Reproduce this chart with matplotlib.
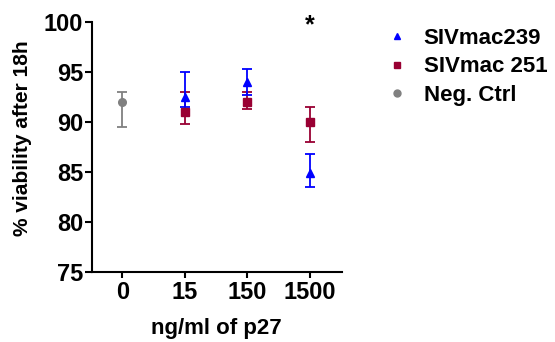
import matplotlib
matplotlib.use("Agg")
import matplotlib.pyplot as plt
from matplotlib.lines import Line2D

plt.rcParams['font.family'] = ['Liberation Sans', 'DejaVu Sans']
plt.rcParams['font.weight'] = 'bold'

categories = ["0", "15", "150", "1500"]

# SIVmac239 at 15, 150, 1500
siv239_x = [1, 2, 3]
siv239_y = [92.5, 94.0, 84.9]
siv239_lo = [1.0, 1.3, 1.4]
siv239_hi = [2.5, 1.3, 1.9]

# SIVmac 251 at 15, 150, 1500
siv251_x = [1, 2, 3]
siv251_y = [91.0, 92.0, 90.0]
siv251_lo = [1.2, 0.7, 2.0]
siv251_hi = [2.0, 1.0, 1.5]

# Neg. Ctrl at 0
neg_x = [0]
neg_y = [92.0]
neg_lo = [2.5]
neg_hi = [1.0]

blue = "#0000ff"
maroon = "#990033"
gray = "#808080"

fig = plt.figure(figsize=(5.55, 3.42), dpi=100)
ax = fig.add_axes([0.1652, 0.2056, 0.616 - 0.1652, 0.9365 - 0.2056])

ekw = dict(linestyle='none', capsize=3.8, elinewidth=1.3, capthick=1.3)
ax.errorbar(neg_x, neg_y, yerr=[neg_lo, neg_hi], marker='o', markersize=5.5,
            color=gray, ecolor=gray, **ekw)
ax.errorbar(siv251_x, siv251_y, yerr=[siv251_lo, siv251_hi], marker='s', markersize=5.5,
            color=maroon, ecolor=maroon, **ekw)
ax.errorbar(siv239_x, siv239_y, yerr=[siv239_lo, siv239_hi], marker='^', markersize=6,
            color=blue, ecolor=blue, **ekw)

ax.text(3, 99.6, "*", ha='center', va='center', fontsize=18, fontweight='bold')

ax.set_xlim(-0.49, 3.51)
ax.set_ylim(75, 100)
ax.set_xticks(range(len(categories)))
ax.set_xticklabels(categories)
ax.set_yticks([75, 80, 85, 90, 95, 100])

for s in ['top', 'right']:
    ax.spines[s].set_visible(False)
for s in ['left', 'bottom']:
    ax.spines[s].set_linewidth(1.5)
ax.tick_params(axis='x', width=1.5, length=4, labelsize=17, pad=3)
ax.tick_params(axis='y', width=1.5, length=5, labelsize=17, pad=1)
for lab in ax.get_xticklabels() + ax.get_yticklabels():
    lab.set_fontweight('bold')

ax.set_xlabel("ng/ml of p27", fontsize=16, fontweight='bold')
ax.set_ylabel("% viability after 18h", fontsize=15, fontweight='bold')
ax.xaxis.set_label_coords(0.5, -0.185)
ax.yaxis.set_label_coords(-0.24, 0.533)

handles = [
    Line2D([], [], linestyle='none', marker='^', color=blue, markersize=5),
    Line2D([], [], linestyle='none', marker='s', color=maroon, markersize=5),
    Line2D([], [], linestyle='none', marker='o', color=gray, markersize=5),
]
fig.legend(handles, ["SIVmac239", "SIVmac 251", "Neg. Ctrl"],
           loc='upper left', bbox_to_anchor=(0.68, 0.945), frameon=False,
           prop={'size': 16, 'weight': 'bold'}, handletextpad=0.68,
           labelspacing=0.35, borderaxespad=0, handlelength=1.0)

fig.savefig("out.png", dpi=100)
